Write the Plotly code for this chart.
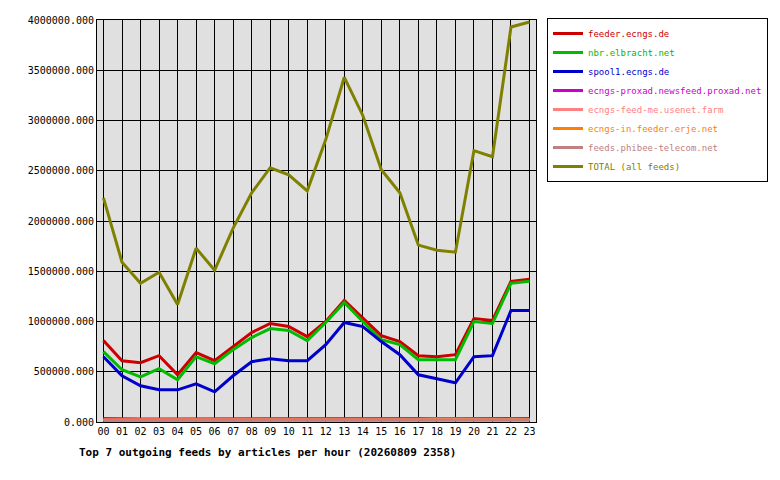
import plotly.graph_objects as go

hours = [f"{h:02d}" for h in range(24)]
feeder = [0.81,0.61,0.59,0.66,0.47,0.69,0.61,0.75,0.89,0.98,0.95,0.85,1.00,1.21,1.04,0.86,0.80,0.66,0.65,0.67,1.03,1.01,1.40,1.42]
nbr = [0.70,0.52,0.45,0.53,0.42,0.65,0.58,0.72,0.84,0.93,0.91,0.81,0.99,1.19,1.00,0.82,0.77,0.62,0.62,0.62,1.00,0.98,1.38,1.40]
spool1 = [0.65,0.46,0.36,0.32,0.32,0.38,0.30,0.46,0.60,0.63,0.61,0.61,0.77,0.99,0.95,0.80,0.67,0.47,0.43,0.39,0.65,0.66,1.11,1.11]
proxad = [0.035,0.03,0.03,0.03,0.03,0.028,0.03,0.035,0.03,0.03,0.03,0.035,0.035,0.035,0.035,0.03,0.035,0.03,0.03,0.03,0.035,0.03,0.03,0.035]
usenetfarm = [0.02,0.02,0.02,0.02,0.02,0.02,0.02,0.02,0.025,0.025,0.025,0.025,0.025,0.025,0.025,0.025,0.025,0.025,0.03,0.03,0.025,0.025,0.03,0.025]
erje = [0.02,0.02,0.02,0.02,0.02,0.025,0.02,0.02,0.02,0.02,0.02,0.02,0.02,0.02,0.02,0.02,0.02,0.02,0.02,0.02,0.02,0.02,0.02,0.02]
phibee = [0.015,0.015,0.015,0.015,0.015,0.015,0.015,0.015,0.02,0.02,0.02,0.02,0.02,0.02,0.02,0.02,0.02,0.02,0.02,0.02,0.02,0.02,0.02,0.02]
total = [2.23,1.59,1.38,1.49,1.17,1.73,1.51,1.93,2.28,2.53,2.46,2.30,2.81,3.43,3.05,2.51,2.28,1.76,1.71,1.69,2.70,2.64,3.93,3.98]

series = [
    ("feeder.ecngs.de", feeder, "#cc0000"),
    ("nbr.elbracht.net", nbr, "#00bb00"),
    ("spool1.ecngs.de", spool1, "#0000cc"),
    ("ecngs-proxad.newsfeed.proxad.net", proxad, "#cc00cc"),
    ("ecngs-feed-me.usenet.farm", usenetfarm, "#ff8080"),
    ("ecngs-in.feeder.erje.net", erje, "#ff8000"),
    ("feeds.phibee-telecom.net", phibee, "#c08080"),
    ("TOTAL (all feeds)", total, "#808000"),
]

fig = go.Figure()
for name, vals, col in series:
    fig.add_trace(go.Scatter(x=hours, y=[v*1e6 for v in vals],
                             name=f"<span style='color:{col}'>{name}</span>", mode="lines",
                             line=dict(color=col, width=3)))

font = dict(family="DejaVu Sans Mono", size=10, color="black")
fig.update_layout(
    width=780, height=480, paper_bgcolor="white", plot_bgcolor="#e0e0e0",
    margin=dict(l=89, r=252, t=12, b=66, autoexpand=False), font=font,
    showlegend=True,
    legend=dict(x=1.025, y=1.005, xanchor="left", yanchor="top", bordercolor="black",
                borderwidth=1, bgcolor="white", font=dict(family="DejaVu Sans Mono", size=9),
                tracegroupgap=0, itemwidth=30),
    annotations=[dict(text="<b>Top 7 outgoing feeds by articles per hour (20260809 2358)</b>",
                      xref="paper", yref="paper", x=-0.045, y=-0.075, xanchor="left", yanchor="middle",
                      showarrow=False, font=dict(family="DejaVu Sans Mono", size=11))],
)
fig.update_xaxes(showgrid=True, gridcolor="black", gridwidth=1, range=[-0.35, 23.35],
                 showline=True, linecolor="black", mirror=True, ticks="", tickfont=font)
fig.update_yaxes(range=[0, 4e6], dtick=5e5, tickformat=".3f", showgrid=True, gridcolor="black",
                 gridwidth=1, showline=True, linecolor="black", mirror=True, zeroline=False,
                 ticks="", tickfont=font)
fig.write_html("out.html")
